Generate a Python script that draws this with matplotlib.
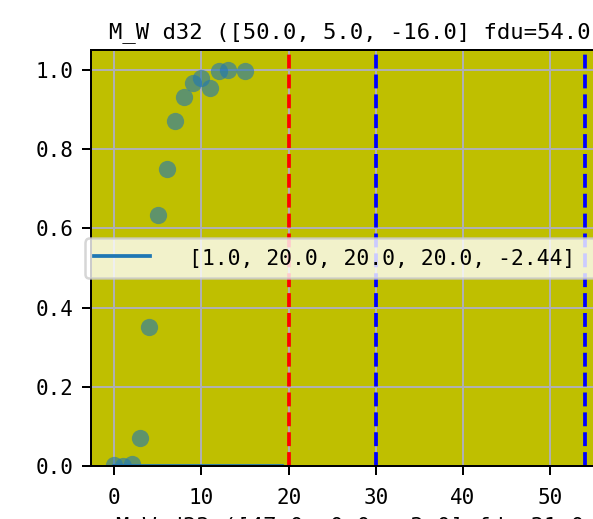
import matplotlib.pyplot as plt

plt.rcParams['font.family'] = ['DejaVu Sans Mono']

# measured points (M_W d32)
pts_x = [0, 1, 2, 3, 4, 5, 6, 7, 8, 9, 10, 11, 12, 13, 15]
pts_y = [0.003, 0.0, 0.005, 0.070, 0.352, 0.634, 0.749, 0.872, 0.932,
         0.966, 0.980, 0.953, 0.996, 1.000, 0.996]

# fitted curve (sits on y=0)
fit_x = [0.0, 19.2]
fit_y = [0.0, 0.0]
fit_label = '[1.0, 20.0, 20.0, 20.0, -2.44]  '

red_lines = [20]
blue_lines = [30, 54]

title = 'M_W d32 ([50.0, 5.0, -16.0] fdu=54.0'
next_title = 'M_W d33 ([47.0, 0.0, -3.0] fdu=31.0'

W, H = 593, 519
fig = plt.figure(figsize=(W / 100, H / 100), dpi=100)
ax = fig.add_axes([90.8 / W, (H - 466.2) / H, (608.5 - 90.8) / W, (466.2 - 50) / H])
ax.set_facecolor('y')

ax.grid(True, color='#b0b0b0', linewidth=1.44)
ax.scatter(pts_x, pts_y, s=155, color='tab:blue', alpha=0.6, linewidths=0, zorder=2)
ax.plot(fit_x, fit_y, color='tab:blue', linewidth=2.7, label=fit_label)
for xv in red_lines:
    ax.axvline(xv, color='r', linestyle='--', linewidth=2.7)
for xv in blue_lines:
    ax.axvline(xv, color='b', linestyle='--', linewidth=2.7)

ax.set_xlim(-2.7, 56.7)
ax.set_ylim(0, 1.05)
ax.set_xticks([0, 10, 20, 30, 40, 50])
ax.set_yticks([0.0, 0.2, 0.4, 0.6, 0.8, 1.0])

for sp in ax.spines.values():
    sp.set_linewidth(1.44)
ax.tick_params(axis='both', length=6.3, width=1.44, labelsize=15)
ax.tick_params(axis='x', pad=9.5)
ax.tick_params(axis='y', pad=6.5)

ax.set_title(title, fontsize=16, pad=8.4)

leg = ax.legend(loc='center left', bbox_to_anchor=((85 - 90.8) / (608.5 - 90.8), 0.5),
                borderaxespad=0, fontsize=15.4, handlelength=2.66, handletextpad=1.78,
                handleheight=1.25, framealpha=0.8)
leg.get_frame().set_linewidth(1.8)

fig.text(349.7 / W, (H - 532) / H, next_title, ha='center', va='baseline', fontsize=16)

fig.savefig('out.png', dpi=100)
